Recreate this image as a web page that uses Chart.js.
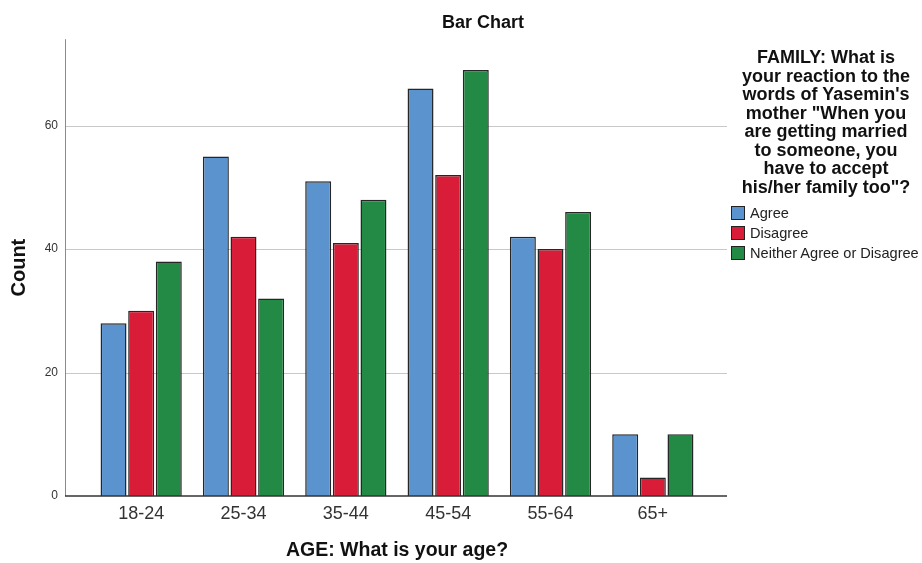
<!DOCTYPE html>
<html>
<head>
<meta charset="utf-8">
<script src="https://cdn.jsdelivr.net/npm/chart.js@4"></script>
<style>
  body { margin: 0; background: #fff; font-family: "Liberation Sans", Arial, sans-serif; }
  #wrap { position: relative; width: 922px; height: 563px; }
  #title { position: absolute; left: 383px; width: 200px; top: 11px; text-align: center; font-weight: bold; font-size: 18px; line-height: 22px; color: #111; }
  #legend { position: absolute; left: 728px; top: 48px; width: 196px; }
  #legend .ltitle { text-align: center; font-weight: bold; font-size: 18px; line-height: 18.5px; color: #111; }
  #legend .item { font-size: 14.6px; height: 20px; line-height: 20px; color: #222; white-space: nowrap; }
  #legend .sw { display: inline-block; width: 12px; height: 12px; border: 1px solid #222; vertical-align: -2px; margin: 0 5px 0 3px; }
</style>
</head>
<body>
<div id="wrap">
  <canvas id="canvas" width="922" height="563"></canvas>
  <div id="title">Bar Chart</div>
  <div id="legend"></div>
</div>
<script>
// categories and series
var ageGroups = ["18-24", "25-34", "35-44", "45-54", "55-64", "65+"];
var agree    = [28, 55, 51, 66, 42, 10];
var disagree = [30, 42, 41, 52, 40, 3];
var neither  = [38, 32, 48, 69, 46, 10];
var seriesNames = ["Agree", "Disagree", "Neither Agree or Disagree"];
var seriesColors = ["#5b93cf", "#d91c37", "#228a44"];
var yTicks = [0, 20, 40, 60];
var legendTitle = ["FAMILY: What is", "your reaction to the", "words of Yasemin's",
  "mother \"When you", "are getting married", "to someone, you",
  "have to accept", "his/her family too\"?"];

// grid + axis lines, wider than the chart area like the SPSS output
var spssAxes = {
  id: "spssAxes",
  beforeDatasetsDraw: function(chart) {
    var ctx = chart.ctx, a = chart.chartArea, y = chart.scales.y;
    var x0 = a.left - 25, x1 = a.right + 23;
    ctx.save();
    ctx.strokeStyle = "#c8c8c8";
    ctx.lineWidth = 1;
    yTicks.forEach(function(v) {
      if (v === 0) return;
      var py = Math.round(y.getPixelForValue(v)) + 0.5;
      ctx.beginPath(); ctx.moveTo(x0, py); ctx.lineTo(x1, py); ctx.stroke();
    });
    ctx.strokeStyle = "#8a8a8a";
    ctx.beginPath(); ctx.moveTo(x0 + 0.5, a.top); ctx.lineTo(x0 + 0.5, a.bottom); ctx.stroke();
    ctx.restore();
  },
  afterDatasetsDraw: function(chart) {
    var ctx = chart.ctx, a = chart.chartArea;
    ctx.save();
    ctx.strokeStyle = "#333";
    ctx.lineWidth = 1.5;
    ctx.beginPath(); ctx.moveTo(a.left - 25, a.bottom); ctx.lineTo(a.right + 23, a.bottom); ctx.stroke();
    ctx.restore();
  }
};

var values = [agree, disagree, neither];
var datasets = values.map(function(d, i) {
  return {
    label: seriesNames[i],
    data: d,
    backgroundColor: seriesColors[i],
    borderColor: "#262626",
    borderWidth: 1.5,
    categoryPercentage: 0.81,
    barPercentage: 0.94
  };
});

new Chart(document.getElementById("canvas"), {
  type: "bar",
  data: { labels: ageGroups, datasets: datasets },
  plugins: [spssAxes],
  options: {
    responsive: false,
    animation: false,
    layout: { padding: { left: 0, right: 218, top: 38, bottom: 0 } },
    plugins: { legend: { display: false }, tooltip: { enabled: false } },
    scales: {
      x: {
        grid: { display: false, drawTicks: false },
        border: { display: false },
        ticks: { color: "#333", font: { family: "Liberation Sans", size: 18 }, padding: 7 },
        title: { display: true, text: "AGE: What is your age?", color: "#111",
                 font: { family: "Liberation Sans", size: 19.5, weight: "bold" }, padding: { bottom: 1 } },
        afterFit: function(s) { s.height = 67; }
      },
      y: {
        min: 0,
        max: 74,
        grid: { display: false, drawTicks: false },
        border: { display: false },
        ticks: {
          stepSize: 20,
          padding: 32,
          color: "#333",
          font: { family: "Liberation Sans", size: 12 },
          callback: function(v) { return yTicks.indexOf(v) >= 0 ? v : ""; }
        },
        title: { display: true, text: "Count", color: "#111",
                 font: { family: "Liberation Sans", size: 20, weight: "bold" }, padding: { top: 7 } },
        afterFit: function(s) { s.width = 90; }
      }
    }
  }
});

// legend
var lg = document.getElementById("legend");
var html = '<div class="ltitle">' + legendTitle.map(function(t) {
  return t.replace(/&/g, "&amp;").replace(/</g, "&lt;");
}).join("<br>") + '</div><div style="height:7px"></div>';
seriesNames.forEach(function(n, i) {
  html += '<div class="item"><span class="sw" style="background:' + seriesColors[i] + '"></span>' + n + '</div>';
});
lg.innerHTML = html;
</script>
</body>
</html>
